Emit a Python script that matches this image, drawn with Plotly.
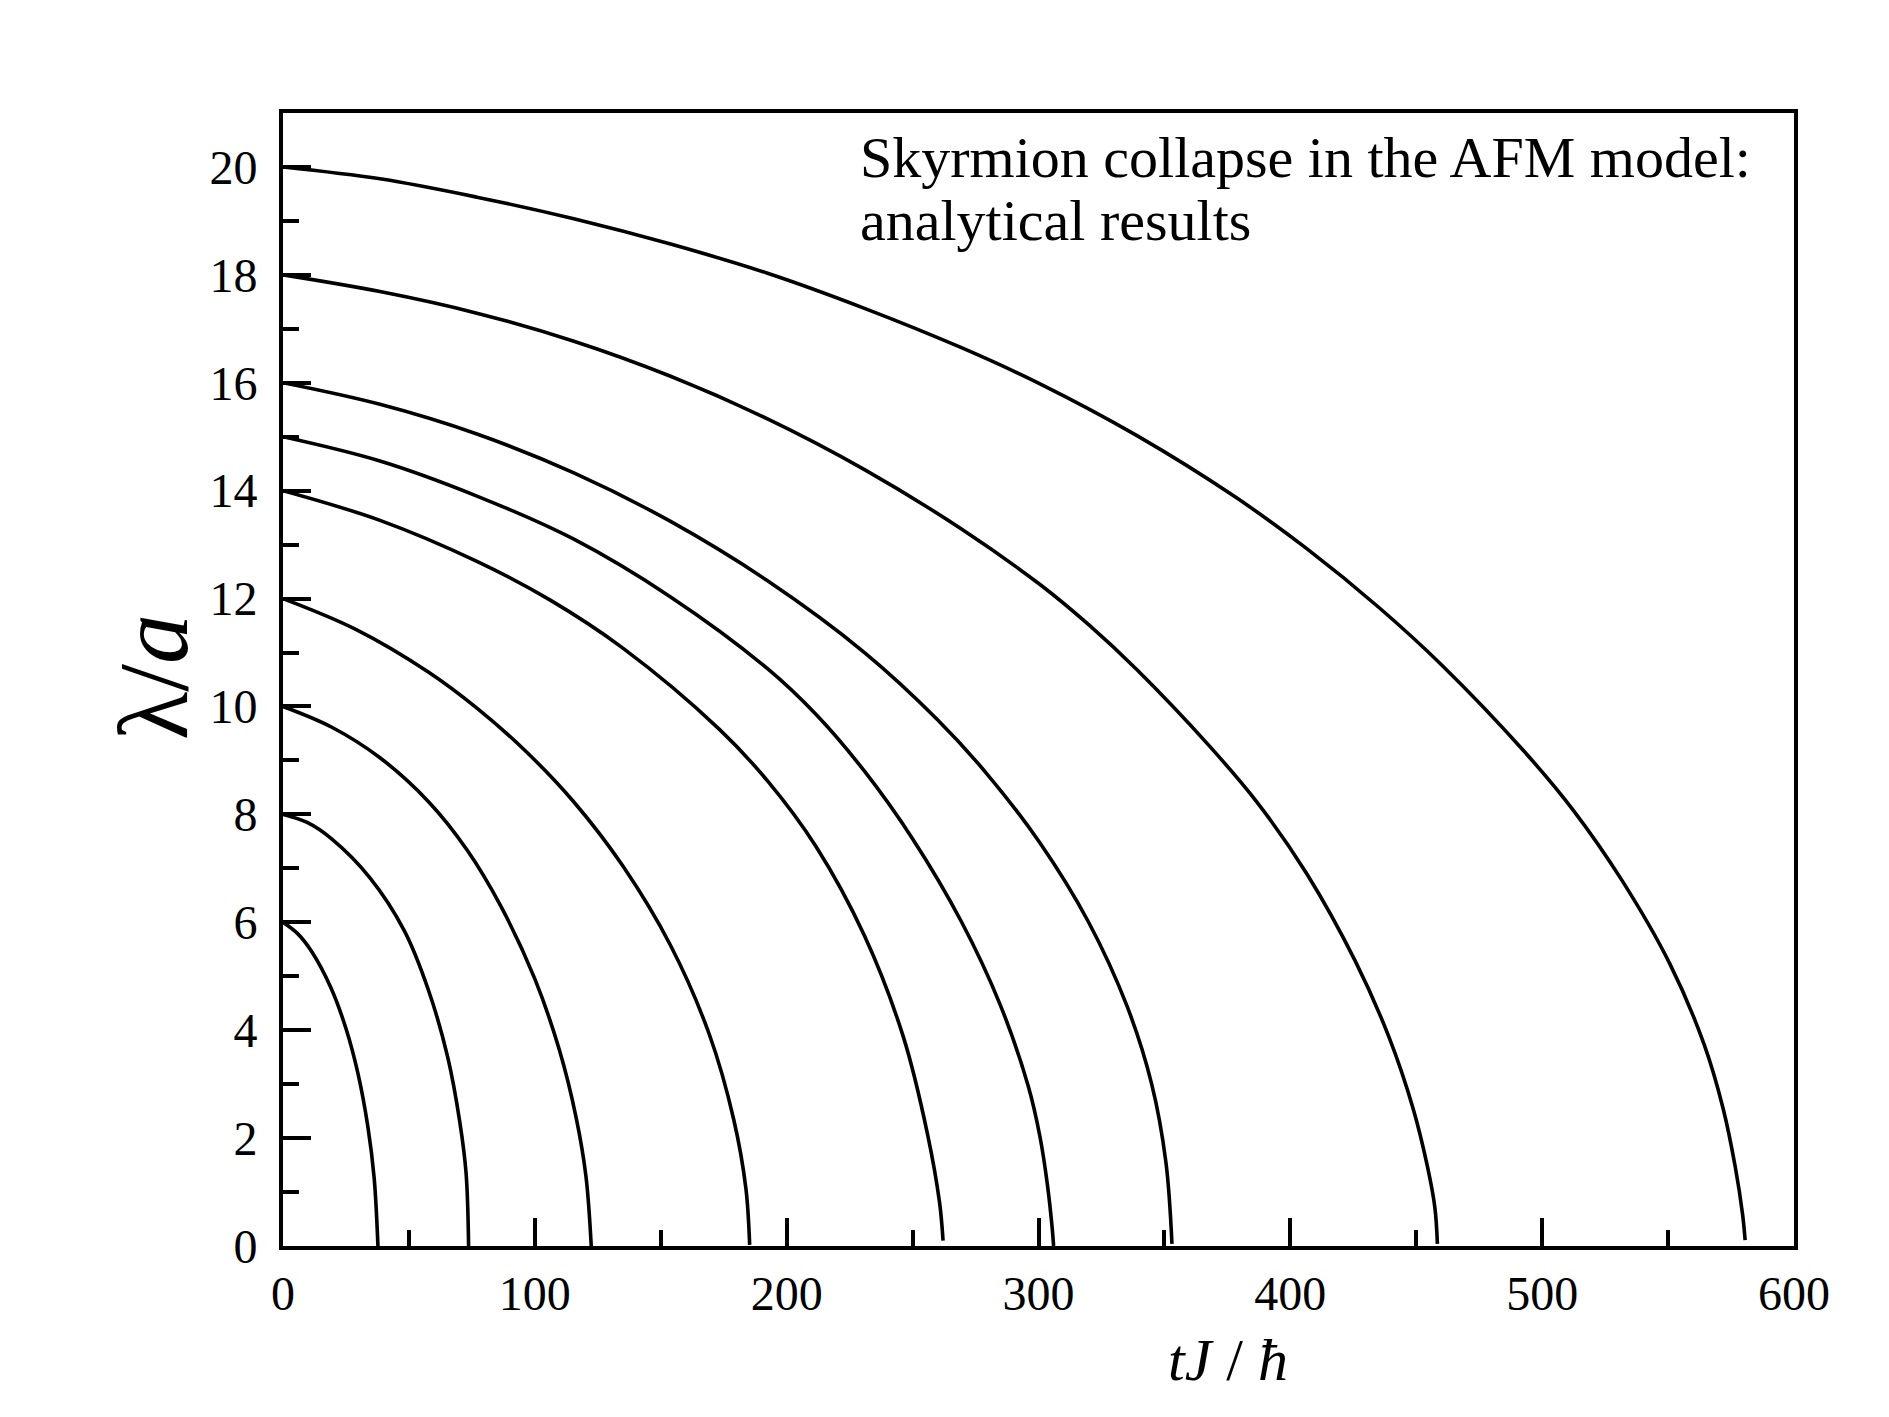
import plotly.graph_objects as go

# skyrmion radius lambda/a versus time tJ/hbar, one curve per initial size
lam0 = [6, 8, 10, 12, 14, 15, 16, 18, 20]

t_6 = [0, 5.8, 11.5, 19.2, 25.0, 29.8, 33.7, 36.2, 37.7]
lam_6 = [6.0, 5.79, 5.45, 4.77, 4.03, 3.19, 2.21, 1.26, 0.0]

t_8 = [0, 9.6, 19.2, 34.6, 48.1, 57.7, 65.4, 70.2, 72.7, 73.7]
lam_8 = [8.0, 7.85, 7.55, 6.82, 5.85, 4.75, 3.5, 2.3, 1.35, 0.0]

t_10 = [0, 19.2, 38.5, 57.7, 73.1, 86.6, 100.0, 109.7, 116.4, 120.3, 122.4]
lam_10 = [10.0, 9.62, 9.05, 8.24, 7.34, 6.29, 4.95, 3.64, 2.38, 1.29, 0.0]

t_12 = [0, 28.9, 57.7, 77.0, 96.2, 115.5, 134.7, 153.9, 169.3, 179.0, 183.8, 185.3]
lam_12 = [12.0, 11.43, 10.64, 9.97, 9.18, 8.23, 7.06, 5.57, 3.92, 2.34, 1.07, 0.02]

t_14 = [0, 38.5, 77.0, 105.8, 134.7, 173.2, 192.4, 211.7, 230.9, 246.3, 255.9, 260.7, 262.1]
lam_14 = [14.0, 13.45, 12.69, 11.98, 11.09, 9.58, 8.62, 7.40, 5.75, 3.88, 2.08, 0.81, 0.1]

t_15 = [0, 38.5, 77.0, 115.5, 153.9, 192.4, 211.7, 230.9, 250.1, 269.4, 284.8, 296.0, 300.6, 303.5, 305.4, 306.0]
lam_15 = [15.0, 14.55, 13.9, 13.1, 12.03, 10.7, 9.85, 8.8, 7.54, 6.01, 4.47, 2.95, 2.02, 1.15, 0.35, 0.0]

t_16 = [0, 38.5, 77.0, 115.5, 153.9, 192.4, 230.9, 259.8, 279.0, 300.6, 319.8, 335.2, 344.9, 350.6, 353.0]
lam_16 = [16.0, 15.6, 15.05, 14.33, 13.43, 12.33, 11.0, 9.76, 8.78, 7.47, 6.01, 4.44, 3.01, 1.55, 0.04]

t_18 = [0, 38.5, 77.0, 115.5, 153.9, 192.4, 230.9, 269.4, 300.6, 319.8, 339.1, 368.0, 387.2,
        406.4, 425.7, 439.1, 448.8, 454.5, 457.4, 458.4]
lam_18 = [18.0, 17.69, 17.29, 16.77, 16.12, 15.33, 14.39, 13.29, 12.26, 11.52, 10.68, 9.26, 8.2,
          6.91, 5.29, 3.88, 2.54, 1.46, 0.71, 0.04]

t_20 = [0, 38.5, 77.0, 115.5, 153.9, 192.4, 230.9, 269.4, 300.6, 339.1, 377.6, 406.4, 435.3, 460.3,
        493.0, 512.3, 531.5, 550.7, 564.2, 571.9, 576.7, 579.6, 580.6]
lam_20 = [20.0, 19.78, 19.44, 19.04, 18.57, 18.03, 17.38, 16.65, 15.98, 15.02, 13.9, 12.93, 11.83, 10.76,
          9.16, 8.08, 6.79, 5.23, 3.75, 2.54, 1.46, 0.58, 0.11]

curves = [(t_6, lam_6), (t_8, lam_8), (t_10, lam_10), (t_12, lam_12), (t_14, lam_14),
          (t_15, lam_15), (t_16, lam_16), (t_18, lam_18), (t_20, lam_20)]

serif = "Liberation Serif"

fig = go.Figure()
for l0, (tt, ll) in zip(lam0, curves):
    fig.add_trace(go.Scatter(x=tt, y=ll, mode='lines', name=str(l0),
                             line=dict(color='black', width=3.6, shape='spline', smoothing=1.0)))

axis_common = dict(showline=True, linewidth=4, linecolor='black', mirror=True,
                   ticks='inside', ticklen=28, tickwidth=3.5, tickcolor='black',
                   showgrid=False, zeroline=False,
                   tickfont=dict(family=serif, size=48, color='black'))

fig.update_xaxes(range=[0, 600], dtick=100, ticklabelstandoff=2,
                 minor=dict(ticks='inside', dtick=50, ticklen=16, tickwidth=3.5, tickcolor='black'),
                 **axis_common)
fig.update_yaxes(range=[0, 21], dtick=2, ticklabelstandoff=12,
                 minor=dict(ticks='inside', dtick=1, ticklen=16, tickwidth=3.5, tickcolor='black'),
                 **axis_common)

fig.add_annotation(text="Skyrmion collapse in the AFM model:", xref='paper', yref='paper',
                   x=0.3805, y=0.961, xanchor='left', yanchor='middle', showarrow=False,
                   font=dict(family=serif, size=58, color='black'))
fig.add_annotation(text="analytical results", xref='paper', yref='paper',
                   x=0.3805, y=0.905, xanchor='left', yanchor='middle', showarrow=False,
                   font=dict(family=serif, size=58, color='black'))
fig.add_annotation(text="<i>tJ</i> / <i>ħ</i>", xref='paper', yref='paper',
                   x=0.6254, y=-0.101, xanchor='center', yanchor='middle', showarrow=False,
                   font=dict(family=serif, size=60, color='black'))
fig.add_annotation(text="λ/<i>a</i>", xref='paper', yref='paper', textangle=-90,
                   x=-0.086, y=0.502, xanchor='center', yanchor='middle', showarrow=False,
                   font=dict(family=serif, size=100, color='black'))

fig.update_layout(width=1889, height=1417, showlegend=False,
                  margin=dict(l=275, r=103, t=105, b=179),
                  plot_bgcolor='white', paper_bgcolor='white')

fig.write_html("out.html")
